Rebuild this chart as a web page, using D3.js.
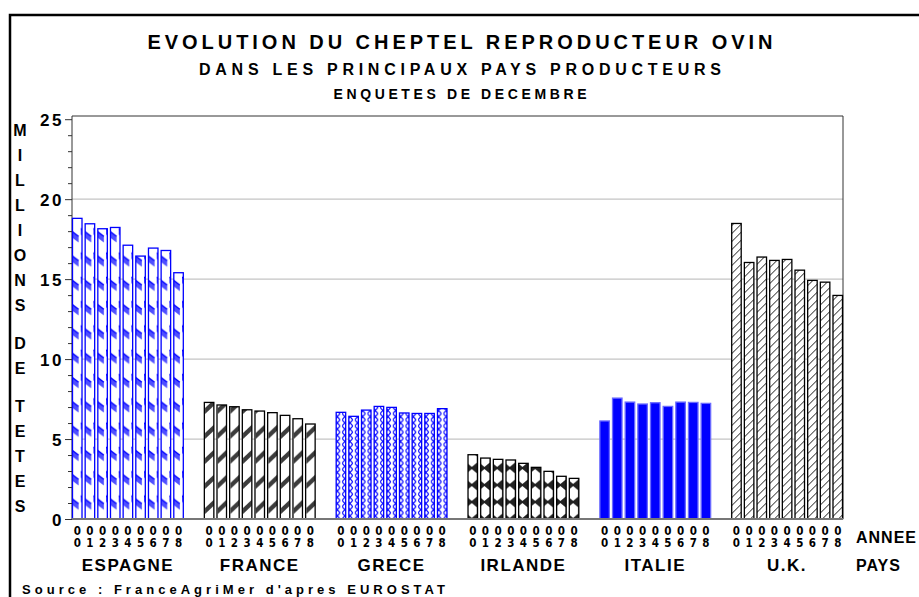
<!DOCTYPE html>
<html>
<head>
<meta charset="utf-8">
<script src="https://cdn.jsdelivr.net/npm/d3@7"></script>
<style>
  body { margin: 0; background: #fff; }
  svg { display: block; font-family: "Liberation Sans", Arial, sans-serif; font-weight: bold; }
</style>
</head>
<body>
<div id="chart"></div>
<script>
// cheptel reproducteur ovin, millions de tetes, enquetes de decembre 2000-2008
const countries = ["ESPAGNE", "FRANCE", "GRECE", "IRLANDE", "ITALIE", "U.K."];
const years = ["00", "01", "02", "03", "04", "05", "06", "07", "08"];
const espagne = [18.8, 18.46, 18.15, 18.23, 17.12, 16.44, 16.94, 16.79, 15.4];
const france = [7.29, 7.13, 7.02, 6.83, 6.75, 6.65, 6.48, 6.27, 5.94];
const grece = [6.67, 6.42, 6.81, 7.04, 6.98, 6.63, 6.6, 6.6, 6.9];
const irlande = [4.02, 3.81, 3.73, 3.69, 3.48, 3.23, 2.98, 2.67, 2.54];
const italie = [6.13, 7.56, 7.31, 7.19, 7.27, 7.04, 7.31, 7.29, 7.23];
const uk = [18.48, 16.04, 16.38, 16.17, 16.23, 15.56, 14.92, 14.81, 13.98];
const yTicks = [0, 5, 10, 15, 20, 25];
const yLabel = "MILLIONS DE TETES";

const series = [espagne, france, grece, irlande, italie, uk];

const W = 919, H = 597;
const margin = { top: 116, right: 76, bottom: 78, left: 72 };

const svg = d3.select("#chart").append("svg")
    .attr("width", W)
    .attr("height", H);

const x0 = d3.scaleBand()
    .domain(countries)
    .range([margin.left, W - margin.right])
    .paddingInner(0.152)
    .paddingOuter(0);

const x1 = d3.scaleBand()
    .domain(years)
    .range([0, x0.bandwidth()])
    .paddingInner(0.17)
    .paddingOuter(0);

const y = d3.scaleLinear()
    .domain([0, 25.2])
    .range([H - margin.bottom, margin.top]);

const bw = x1.bandwidth();
const step = x1.step();
const base = y(0);

// hatching patterns, one per country, phase aligned on the group
const defs = svg.append("defs");

function pat(id, country, h) {
    return defs.append("pattern")
        .attr("id", id)
        .attr("patternUnits", "userSpaceOnUse")
        .attr("x", x0(country))
        .attr("y", base)
        .attr("width", step)
        .attr("height", h);
}

// espagne : bandes bleues en "\"
let p = pat("p-esp", "ESPAGNE", 24.3);
p.append("rect").attr("width", step).attr("height", 24.3).attr("fill", "#fff");
p.append("polygon")
    .attr("points", [[0, 1], [bw, 9], [bw, 15], [0, 7]].join(" "))
    .attr("fill", "#4f4fff");
p.append("line").attr("x1", 0).attr("y1", 1).attr("x2", bw).attr("y2", 9)
    .attr("stroke", "#0000ff").attr("stroke-width", 1.4);

// france : bandes grises en "/"
p = pat("p-fra", "FRANCE", 25);
p.append("rect").attr("width", step).attr("height", 25).attr("fill", "#fff");
p.append("polygon")
    .attr("points", [[0, 14], [bw, 4], [bw, 10], [0, 20]].join(" "))
    .attr("fill", "#3c3c3c");

// grece : quadrillage bleu en X
p = pat("p-gre", "GRECE", 6.2);
p.append("rect").attr("width", step).attr("height", 6.2).attr("fill", "#fff");
[0, bw / 2].forEach(dx => {
    p.append("path")
        .attr("d", `M${dx},0L${dx + bw / 2},6.2M${dx + bw / 2},0L${dx},6.2`)
        .attr("stroke", "#0000ff").attr("stroke-width", 1.1).attr("fill", "none");
});

// irlande : noeuds papillon noirs
p = pat("p-irl", "IRLANDE", 17);
p.append("rect").attr("width", step).attr("height", 17).attr("fill", "#222");
p.append("polygon")
    .attr("points", [[bw / 2, 1], [bw, 5.5], [bw, 11.5], [bw / 2, 16], [0, 11.5], [0, 5.5]].join(" "))
    .attr("fill", "#fff");

// u.k. : hachures fines en "/"
p = defs.append("pattern")
    .attr("id", "p-uk")
    .attr("patternUnits", "userSpaceOnUse")
    .attr("x", x0("U.K."))
    .attr("y", base)
    .attr("width", 8)
    .attr("height", 8);
p.append("rect").attr("width", 8).attr("height", 8).attr("fill", "#fff");
p.append("path")
    .attr("d", "M-1,9L9,-1M-1,1L1,-1M7,9L9,7")
    .attr("stroke", "#000").attr("stroke-width", 0.9);

const styles = {
    "ESPAGNE": { fill: "url(#p-esp)", stroke: "#0000ff" },
    "FRANCE": { fill: "url(#p-fra)", stroke: "#000" },
    "GRECE": { fill: "url(#p-gre)", stroke: "#0000ff" },
    "IRLANDE": { fill: "url(#p-irl)", stroke: "#000" },
    "ITALIE": { fill: "#0000ff", stroke: "#6a6aff" },
    "U.K.": { fill: "url(#p-uk)", stroke: "#000" }
};

// frame of the page
svg.append("path")
    .attr("d", `M10,${H}V15H${W}`)
    .attr("fill", "none")
    .attr("stroke", "#000")
    .attr("stroke-width", 2.5);

// gridlines
svg.append("g")
    .selectAll("line")
    .data(yTicks.filter(d => d > 0 && d < 25))
    .join("line")
    .attr("x1", margin.left)
    .attr("x2", W - margin.right)
    .attr("y1", d => y(d))
    .attr("y2", d => y(d))
    .attr("stroke", "#c4c4c4")
    .attr("stroke-width", 1.2);

// plot box
svg.append("path")
    .attr("d", `M${margin.left},${base}V${margin.top}H${W - margin.right}V${base}`)
    .attr("fill", "none")
    .attr("stroke", "#333")
    .attr("stroke-width", 1);

// bars
const groups = svg.append("g")
    .selectAll("g")
    .data(countries)
    .join("g")
    .attr("transform", d => `translate(${x0(d)},0)`);

groups.selectAll("rect")
    .data((c, i) => series[i].map((v, j) => ({ c, year: years[j], v })))
    .join("rect")
    .attr("x", d => x1(d.year) + 0.5)
    .attr("y", d => y(d.v))
    .attr("width", bw - 1)
    .attr("height", d => base - y(d.v))
    .attr("fill", d => styles[d.c].fill)
    .attr("stroke", d => styles[d.c].stroke)
    .attr("stroke-width", 1.3);

// base line
svg.append("line")
    .attr("x1", margin.left)
    .attr("x2", W - margin.right)
    .attr("y1", base)
    .attr("y2", base)
    .attr("stroke", "#777")
    .attr("stroke-width", 2);

// y axis
const yAxis = svg.append("g")
    .attr("transform", `translate(${margin.left},0)`)
    .call(d3.axisLeft(y).tickValues(yTicks).tickSize(7).tickFormat(d => d));
yAxis.select(".domain").remove();
yAxis.selectAll(".tick line").attr("stroke", "#333");
yAxis.selectAll(".tick text")
    .attr("x", -8)
    .attr("dy", "0.36em")
    .attr("font-size", 17)
    .attr("font-weight", "bold")
    .attr("font-family", "Liberation Sans, Arial, sans-serif")
    .attr("letter-spacing", 2.5)
    .attr("fill", "#000");

svg.append("g")
    .attr("transform", `translate(${margin.left},0)`)
    .call(d3.axisLeft(y).tickValues(d3.range(1, 25).filter(d => d % 5)).tickSize(4).tickFormat(""))
    .call(g => g.select(".domain").remove())
    .selectAll(".tick line").attr("stroke", "#333");

// vertical axis title, one letter per line
let ly = 130;
const letters = [];
for (const ch of yLabel) {
    if (ch === " ") { ly += 12.5; continue; }
    letters.push({ ch, ly });
    ly += 25.1;
}
svg.append("g")
    .selectAll("text")
    .data(letters)
    .join("text")
    .attr("x", 20)
    .attr("y", d => d.ly)
    .attr("dy", "0.36em")
    .attr("text-anchor", "middle")
    .attr("font-size", 16)
    .text(d => d.ch);

// year labels, two stacked digits
[0, 1].forEach(row => {
    groups.append("g")
        .selectAll("text")
        .data(years)
        .join("text")
        .attr("x", d => x1(d) + bw / 2)
        .attr("y", base + 15.5 + row * 12.5)
        .attr("text-anchor", "middle")
        .attr("font-family", "Liberation Sans Narrow, DejaVu Sans Condensed, sans-serif")
        .attr("font-size", 11.5)
        .text(d => d[row]);
});

// country labels
groups.append("text")
    .attr("x", x0.bandwidth() / 2)
    .attr("y", base + 52)
    .attr("text-anchor", "middle")
    .attr("font-size", 17)
    .attr("letter-spacing", 1.5)
    .text(d => d);

svg.append("text")
    .attr("x", 856).attr("y", base + 24)
    .attr("font-size", 16).attr("letter-spacing", 1)
    .text("ANNEE");
svg.append("text")
    .attr("x", 856).attr("y", base + 52)
    .attr("font-size", 16).attr("letter-spacing", 1)
    .text("PAYS");

// titles
const titles = [
    { t: "EVOLUTION DU CHEPTEL REPRODUCTEUR OVIN", y: 49, s: 20, len: 625 },
    { t: "DANS LES PRINCIPAUX PAYS PRODUCTEURS", y: 75, s: 16, len: 522 },
    { t: "ENQUETES DE DECEMBRE", y: 99, s: 14, len: 253 }
];
svg.append("g")
    .selectAll("text")
    .data(titles)
    .join("text")
    .attr("x", 460)
    .attr("y", d => d.y)
    .attr("text-anchor", "middle")
    .attr("font-size", d => d.s)
    .attr("textLength", d => d.len)
    .attr("lengthAdjust", "spacing")
    .text(d => d.t);

// source
svg.append("text")
    .attr("x", 22)
    .attr("y", 594)
    .attr("font-size", 13)
    .attr("textLength", 423)
    .attr("lengthAdjust", "spacing")
    .text("Source : FranceAgriMer d'apres EUROSTAT");
</script>
</body>
</html>
